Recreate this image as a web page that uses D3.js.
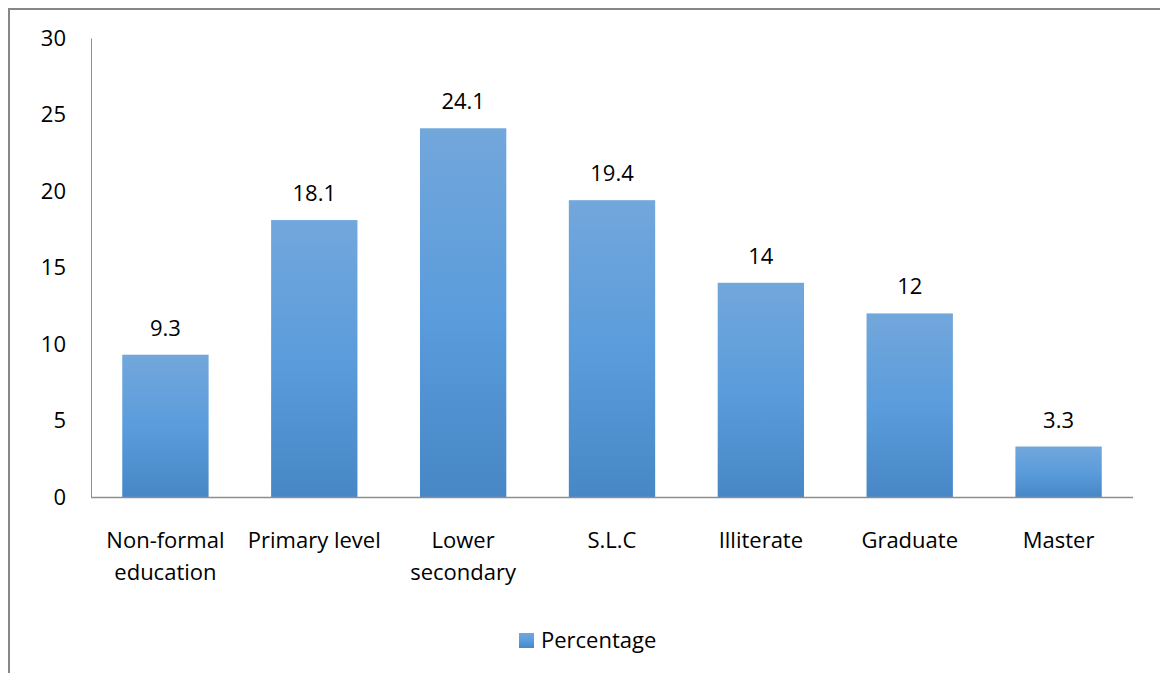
<!DOCTYPE html>
<html>
<head>
<meta charset="utf-8">
<script src="https://cdn.jsdelivr.net/npm/d3@7"></script>
<style>
  body { margin: 0; background: #fff; }
  svg { display: block; }
  text { font-family: "Open Sans", sans-serif; fill: #000; }
</style>
</head>
<body>
<svg id="chart" width="1160" height="673"></svg>
<script>
// categorias e valores
var categories = [
  ["Non-formal", "education"],
  ["Primary level"],
  ["Lower", "secondary"],
  ["S.L.C"],
  ["Illiterate"],
  ["Graduate"],
  ["Master"]
];
var percentages = [9.3, 18.1, 24.1, 19.4, 14, 12, 3.3];
var valueLabels = ["9.3", "18.1", "24.1", "19.4", "14", "12", "3.3"];
var yTicks = [0, 5, 10, 15, 20, 25, 30];
var seriesName = "Percentage";

var svg = d3.select("#chart");

var plotLeft = 91, plotRight = 1133, plotTop = 38, plotBottom = 497;

// moldura do grafico (sai da imagem na direita e embaixo)
svg.append("rect")
    .attr("x", 9).attr("y", 9)
    .attr("width", 1200).attr("height", 700)
    .attr("fill", "none")
    .attr("stroke", "#878787")
    .attr("stroke-width", 2);

var defs = svg.append("defs");
var grad = defs.append("linearGradient")
    .attr("id", "barGrad")
    .attr("x1", 0).attr("y1", 0).attr("x2", 0).attr("y2", 1);
grad.append("stop").attr("offset", "0%").attr("stop-color", "#72a7db");
grad.append("stop").attr("offset", "50%").attr("stop-color", "#5b9cdc");
grad.append("stop").attr("offset", "100%").attr("stop-color", "#4787c6");

var xScale = d3.scaleBand()
    .domain(d3.range(categories.length))
    .range([plotLeft, plotRight])
    .paddingInner(0.42)
    .paddingOuter(0.21);

var yScale = d3.scaleLinear()
    .domain([0, 30])
    .range([plotBottom, plotTop]);

// barras
svg.selectAll("rect.bar")
    .data(percentages)
    .enter()
    .append("rect")
        .attr("class", "bar")
        .attr("x", function(d, i) { return xScale(i); })
        .attr("width", xScale.bandwidth())
        .attr("y", function(d) { return yScale(d); })
        .attr("height", function(d) { return plotBottom - yScale(d); })
        .attr("fill", "url(#barGrad)");

// eixo y
var yAxis = d3.axisLeft(yScale).tickValues(yTicks).tickSize(0).tickPadding(25);
var gy = svg.append("g")
    .attr("transform", "translate(" + plotLeft + ",0)")
    .call(yAxis);
gy.select(".domain").attr("stroke", "#8e8e8e").attr("stroke-width", 1);
gy.selectAll("text")
    .style("font-family", "'Open Sans', sans-serif")
    .style("font-size", "22px")
    .attr("fill", "#000");

// eixo x (so a linha)
svg.append("line")
    .attr("x1", plotLeft).attr("x2", plotRight)
    .attr("y1", plotBottom + 0.5).attr("y2", plotBottom + 0.5)
    .attr("stroke", "#8e8e8e")
    .attr("stroke-width", 1.5);

// rotulos das categorias
var catLabels = svg.selectAll("text.cat")
    .data(categories)
    .enter()
    .append("text")
        .attr("class", "cat")
        .attr("text-anchor", "middle")
        .style("font-size", "22px")
        .attr("x", function(d, i) { return xScale(i) + xScale.bandwidth() / 2; })
        .attr("y", 548);
catLabels.selectAll("tspan")
    .data(function(d) { return d; })
    .enter()
    .append("tspan")
        .attr("x", function() { return d3.select(this.parentNode).attr("x"); })
        .attr("dy", function(d, i) { return i === 0 ? 0 : 32; })
        .text(function(d) { return d; });

// valores acima das barras
svg.selectAll("text.val")
    .data(percentages)
    .enter()
    .append("text")
        .attr("class", "val")
        .attr("text-anchor", "middle")
        .style("font-size", "22px")
        .attr("x", function(d, i) { return xScale(i) + xScale.bandwidth() / 2; })
        .attr("y", function(d) { return yScale(d) - 19; })
        .text(function(d, i) { return valueLabels[i]; });

// legenda
svg.append("rect")
    .attr("x", 519).attr("y", 633)
    .attr("width", 15).attr("height", 15)
    .attr("fill", "url(#barGrad)");
svg.append("text")
    .attr("x", 541).attr("y", 648)
    .style("font-size", "22px")
    .text(seriesName);
</script>
</body>
</html>
